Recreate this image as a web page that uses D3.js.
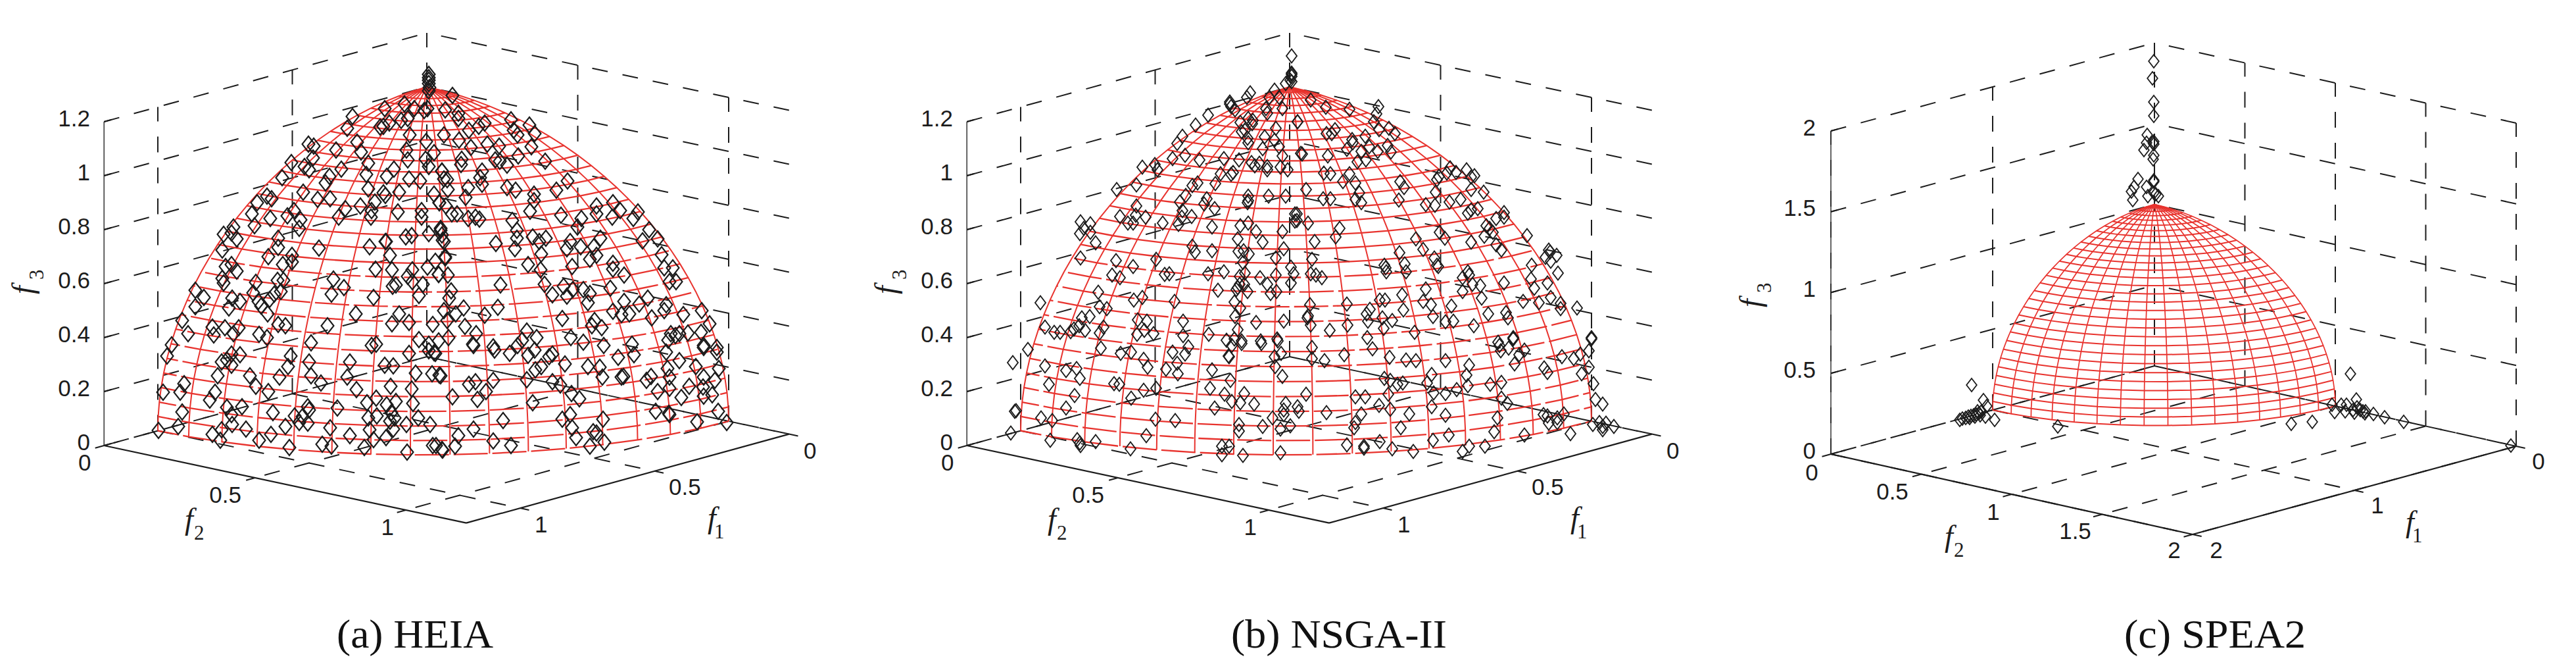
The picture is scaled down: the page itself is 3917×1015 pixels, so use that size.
<!DOCTYPE html>
<html>
<head>
<meta charset="utf-8">
<script src="https://cdn.jsdelivr.net/npm/d3@7"></script>
<style>
html,body{margin:0;padding:0;background:#fff;overflow:hidden}
svg{display:block}
</style>
</head>
<body>
<svg id="chart" width="3917" height="1015"></svg>
<script>
// Tick values of each axis
const heiaF1Ticks = [0, 0.5, 1];
const heiaF2Ticks = [0, 0.5, 1];
const heiaF3Ticks = [0, 0.2, 0.4, 0.6, 0.8, 1, 1.2];
const nsgaF1Ticks = [0, 0.5, 1];
const nsgaF2Ticks = [0, 0.5, 1];
const nsgaF3Ticks = [0, 0.2, 0.4, 0.6, 0.8, 1, 1.2];
const speaF1Ticks = [0, 1, 2];
const speaF2Ticks = [0, 0.5, 1, 1.5, 2];
const speaF3Ticks = [0, 0.5, 1, 1.5, 2];
const captions = ["(a) HEIA", "(b) NSGA-II", "(c) SPEA2"];

// True Pareto front mesh: octant of the unit sphere, in degrees
const meshLatitudes = d3.range(0, 91, 3);
const meshLongitudes = d3.range(0, 90.01, 5.625);

// Obtained solutions as [across, up] in the view plane,
// measured from the foot of the f3 axis of the dome.
const heiaMarkers = [
[3,429],[3,424],[3,420],[3,415],[4,409],[3,404],
[-64,377],[-34,384],[-19,377],[-4,374],[1,377],[-29,362],[-39,359],[-57,355],[-71,349],[-66,350],[-113,365],[-121,347],[-26,337],[-1,327],
[-31,314],[-29,299],[11,310],[-2,300],[3,289],[23,282],[26,270],[-180,323],[-172,320],[-138,314],[-106,326],[-100,311],[-173,302],[-206,295],[-186,289],[-179,284],
[-89,294],[-130,285],[-92,277],[-50,285],[-61,274],[-220,272],[-148,274],[-154,264],[-27,270],[-10,267],[-188,250],[-89,255],[-66,249],[-63,245],[-42,250],[11,247],
[-243,244],[-236,240],[-258,234],[-166,239],[-147,240],[-79,235],[-101,229],[-124,225],[19,234],[-8,222],[-202,222],[-44,220],[-266,217],[-212,214],[-238,210],[-134,212],
[-192,208],[-85,212],[-84,222],[-8,212],[-194,195],[-262,199],[-294,197],[-309,186],[-297,188],[-289,179],[-226,180],[-32,182],[-23,184],[3,187],[21,192],[-63,175],[-62,175],[-87,167],
[-226,166],[-311,162],[-164,165],[24,177],[-205,154],[-56,154],[-241,152],[-219,140],[-205,144],[-306,137],[-297,140],[-289,130],[-78,133],[-53,132],[1,136],[13,145],[28,152],[-22,132],[-29,122],[18,125],
[-142,118],[-311,119],[-309,112],[-260,113],[-227,116],[-218,116],[-22,114],[-6,110],[-126,105],[-52,107],[-47,109],[-352,101],[-339,90],[-145,95],[-81,90],[-12,93],[-222,99],[-232,95],[-264,97],
[-296,89],[-284,84],[-256,84],[-239,87],[-352,76],[-301,74],[-252,77],[-242,65],[-108,65],[-42,65],[-372,55],[-326,45],[-307,44],[-286,44],[-226,49],[-215,47],[-151,47],[-53,50],[-27,52],[9,49],
[-363,35],[-324,33],[-294,35],[-255,34],[-243,29],[-176,21],[-12,26],[-77,19],[-84,17],[18,24],[-388,18],[3,19],
[39,397],[28,375],[48,370],[48,362],[26,337],[64,344],[79,350],[88,355],[128,360],[156,352],[132,344],[138,337],[164,339],[49,329],[67,318],[92,323],[110,320],[159,319],
[139,305],[180,297],[53,300],[52,292],[104,299],[111,297],[122,291],[84,282],[81,272],[84,262],[23,282],[31,269],[32,254],[122,257],[135,253],[197,253],[214,267],[163,247],[163,237],[63,257],[59,242],[157,221],
[19,234],[29,229],[38,217],[46,217],[63,210],[74,212],[80,209],[204,215],[258,229],[258,217],[283,234],[294,222],[282,212],[321,220],[314,210],[235,210],[229,197],[130,207],[137,192],[137,180],[134,164],[161,182],[181,180],[171,175],[105,172],[21,195],[23,185],[26,175],
[218,175],[213,164],[234,167],[254,167],[258,154],[248,148],[338,193],[328,176],[351,179],[264,180],[357,155],[174,156],[28,150],[221,137],[154,140],[173,132],[18,125],[32,124],
[283,142],[283,133],[300,124],[361,135],[374,135],[369,114],[379,114],[179,110],[208,107],[222,102],[238,102],[248,96],[279,104],[112,109],[37,100],[34,89],[191,94],[213,92],[245,82],[300,84],[323,80],[336,89],[364,79],[361,70],[418,70],[430,50],
[108,75],[26,70],[44,65],[56,74],[88,63],[31,55],[283,69],[296,64],[308,65],[342,59],[390,64],[206,58],[255,55],[251,47],[266,44],[58,46],[75,35],[152,39],[167,29],[145,25],[138,17],[219,29],[238,22],[33,29],
[417,37],[397,36],[371,35],[378,32],[367,25],[384,35],[70,19],[101,15],[269,17],[312,19],[421,17],[441,14],
[-395,1],[-297,4],[-284,3],[-312,-8],[-304,-5],[-297,-13],[-207,1],[-179,-8],[-211,-15],[-117,-8],[-27,5],[11,6],[3,9],[-64,-13],[-51,-14],[-318,-29],[-269,-29],[-224,-31],[-176,-29],[-121,-31],[-17,-25],[8,-26],[21,-29],
[-369,-41],[-260,-45],[-161,-40],[-55,-45],[-107,-50],[-23,-49],[-401,-54],[-375,-54],[-322,-54],[-330,-66],[-241,-53],[-91,-70],[-77,-63],[-47,-68],[-21,-71],[-61,-73],[-304,-77],[-281,-76],[-181,-76],[-179,-81],[-136,-78],
[-372,-84],[-234,-85],[-297,-88],[-201,-90],[-189,-91],[-76,-90],[-89,-93],[-54,-85],[-49,-93],[-56,-98],[-13,-93],[-181,-101],[-194,-100],[-31,-103],[5,-103],[-408,-112],[-378,-106],[-296,-103],[-275,-110],[-215,-106],[-147,-108],[-87,-111],[-51,-110],[-312,-111],
[-117,-120],[-237,-118],[-326,-118],[-314,-127],[-255,-127],[-62,-123],[-81,-126],[9,-135],[-159,-133],[-145,-136],[-95,-138],[-209,-138],[-30,-145],[24,-142],
[71,17],[103,10],[126,5],[154,2],[164,10],[186,0],[191,4],[210,-11],[13,5],[165,-20],[174,-15],[19,-28],[64,-42],[74,-38],[101,-36],[152,-35],[191,-38],[203,-43],[245,-15],[263,-16],[267,-31],[291,-1],[315,3],[296,-31],[299,-30],[334,-36],[341,-30],
[364,7],[384,-6],[366,-18],[369,-31],[351,-53],[369,-48],[399,-45],[387,-62],[421,-31],[441,7],[421,14],[409,-15],[444,-18],[438,-36],[420,-46],[421,-60],[434,-58],[39,-61],[90,-53],[77,-65],[220,-56],[232,-64],[161,-70],
[116,-97],[206,-95],[218,-88],[221,-108],[268,-95],[348,-83],[368,-86],[369,-88],[443,-83],[411,-99],[456,-100],[71,-110],[48,-120],[253,-114],[258,-116],[227,-123],[101,-128],[128,-135],[43,-136],[23,-141],[248,-136],[270,-130],[14,-135]
];

const nsgaMarkers = [
[3,457],[3,431],[3,429],[3,426],[3,418],
[-6,415],[1,420],[-23,405],[-16,394],[-31,394],[-36,377],[-34,370],[-11,377],[-60,401],[-65,394],[-91,387],[-91,384],[-89,380],[-83,375],[-124,367],[-143,352],[-75,356],[-63,362],[-56,359],[-57,354],[12,357],[-21,347],[-68,344],[-73,342],[-64,332],[-63,325],[-38,334],[-23,329],[-41,316],[-16,319],[-11,305],[17,309],
[-163,335],[-171,324],[-159,306],[-178,301],[-137,299],[-100,301],[-77,299],[-58,295],[-53,290],[-46,294],[-34,289],[-34,284],[-14,288],[-3,284],[-224,288],[-205,292],[-201,284],[-105,278],[-89,277],[-86,280],
[-263,254],[-233,261],[-148,260],[-140,264],[-113,263],[-158,245],[-126,240],[-63,244],[-63,237],[-64,234],[-32,244],[-6,244],[-167,235],[-130,232],[-233,229],[-114,225],[-163,222],
[-258,213],[-234,215],[-219,212],[-246,203],[-238,203],[-149,213],[-164,212],[-318,205],[-303,202],[-313,195],[-319,187],[-303,189],[-193,203],[-169,201],[-118,197],[-75,199],[-63,203],[-51,190],[-11,190],[8,217],[8,206],
[-295,173],[-79,179],[-41,174],[-148,168],[-144,159],[-118,161],[-70,161],[-78,160],[-62,156],[-9,164],[-21,150],[-318,150],[-264,146],[-203,148],[-238,137],[-71,143],[2,136],[6,126],[-100,129],[-68,127],[-124,126],[-190,125],[-183,126],[-270,124],[-258,120],[-76,122],[-45,120],[-21,124],[2,112],
[-34,110],[-69,110],[-76,110],[-79,105],[-81,102],[-109,101],[-64,99],[-29,96],[-20,99],[-291,98],[-224,90],[-237,86],[-175,84],[-379,82],[-84,83],[-75,74],[-289,76],[-278,73],[-304,61],[-316,59],[-83,61],[-231,56],[-217,54],[-162,54],[-51,52],[-9,54],
[-372,45],[-320,47],[-328,42],[-283,45],[-221,40],[-79,41],[-358,37],[-349,37],[-333,38],[-311,40],[-289,36],[-232,34],[-207,35],[-162,32],[-123,34],[-19,27],[-44,24],[-73,24],[-96,25],[-84,27],
[32,390],[55,379],[91,376],[135,380],[132,369],[128,357],[12,357],[136,345],[151,347],[160,339],[69,345],[56,339],[64,339],[95,330],[96,325],[115,335],[121,319],[87,315],[109,312],[134,312],[149,321],[154,311],
[19,308],[58,305],[103,296],[116,299],[52,279],[62,278],[91,278],[81,266],[100,264],[168,266],[174,257],[25,254],[106,249],[51,240],[62,240],[100,239],[109,234],[166,238],[222,250],[207,231],[221,230],[243,235],[260,239],
[224,269],[227,274],[239,279],[244,287],[253,280],[269,284],[281,275],[276,273],[276,254],[295,250],[286,225],[276,223],[271,218],[314,210],[326,219],[326,212],[299,199],[304,195],[309,189],[296,183],[28,203],[11,217],[11,207],[76,195],[70,182],[38,175],
[192,179],[228,189],[236,180],[276,174],[361,184],[314,170],[322,162],[167,158],[203,163],[34,148],[394,162],[396,159],[406,154],[389,151],[397,145],[220,150],[224,139],[226,137],[144,139],[146,135],[147,129],[175,141],[177,129],[32,126],[40,124],[49,120],
[368,139],[408,127],[263,120],[271,129],[273,124],[278,110],[290,108],[326,112],[367,118],[372,104],[392,112],[207,103],[263,99],[292,89],[171,94],[397,90],[203,84],[215,79],[137,86],[145,86],[31,79],[87,80],[246,77],[355,84],[379,82],[412,81],[412,73],[437,74],
[122,72],[117,65],[173,71],[28,62],[27,59],[302,65],[329,67],[332,59],[218,61],[141,59],[156,55],[119,54],[249,54],[237,53],[32,48],[88,48],[61,40],[143,43],[280,47],[190,37],[118,29],[340,29],[459,29],[317,22],
[-398,11],[-421,-9],[-287,13],[-257,5],[-241,7],[-154,15],[-159,4],[-178,7],[-88,17],[-73,20],[-43,20],[-18,24],[-13,5],[-23,0],[-93,1],[-92,0],[-372,-14],[-340,-21],[-324,-18],[-319,-33],[-222,-4],[-216,-16],[-188,-19],[-171,-10],[-170,-26],[-118,-20],[-22,-15],[-90,-36],[-11,-30],
[-366,-42],[-267,-41],[-259,-42],[-222,-51],[-203,-48],[-121,-48],[-327,-59],[-241,-63],[-99,-57],[-69,-56],[-88,-68],[-75,-70],[-54,-72],[-340,-78],[-114,-78],[-416,-82],[-418,-83],[-378,-93],[-361,-97],[-204,-95],[-174,-97],[-77,-103],[-77,-113],[-41,-106],[-26,-93],
[-6,-71],[-9,-81],[-9,-88],[12,-76],[14,-83],[1,-105],[-14,-110],[-424,-116],[-218,-120],[-364,-127],[-323,-126],[-319,-131],[-318,-135],[-295,-129],[-103,-136],[-92,-136],[-242,-140],[-103,-149],[-71,-150],[-14,-146],
[34,14],[34,-3],[53,-6],[83,3],[126,12],[152,-1],[177,-5],[192,-6],[237,-6],[216,-27],[273,-13],[269,-28],[271,-44],[319,17],[321,9],[333,13],[357,10],[349,3],[342,-11],[414,0],[432,-3],[442,4],[455,9],[459,27],[340,27],[387,-17],[392,-24],[455,-16],[444,-26],[462,-41],
[144,-33],[153,-36],[164,-42],[172,-40],[209,-40],[219,-55],[237,-56],[254,-50],[305,-42],[322,-39],[322,-63],[331,-71],[25,-57],[100,-61],[115,-61],[150,-57],[465,-65],[476,-72],[136,-74],[153,-80],[216,-76],[56,-85],[109,-87],[182,-87],[237,-89],[316,-93],
[386,-88],[392,-90],[407,-93],[417,-87],[394,-101],[407,-100],[100,-100],[98,-108],[169,-108],[311,-114],[242,-119],[357,-119],[427,-117],[461,-103],[471,-100],[476,-106],[476,-111],[493,-106],[481,-101],[218,-127],[87,-134],[113,-136],[113,-139],[137,-129],[156,-140],[188,-144],[263,-144],[273,-136],[297,-136]
];

const speaMarkers = [
[-1,463],[-3,437],[-1,401],[-1,380],[-11,351],[-12,339],[-16,328],[-2,339],[-1,341],[-1,337],[-1,320],[-2,314],[-25,284],[-31,272],[-35,265],[-33,252],[-12,272],[-1,282],[-1,280],[-10,258],[-1,263],[6,258],[2,261],
[-278,-29],[-260,-52],[-255,-61],[-243,-82],[-147,-92],[-257,-77],[-296,-82],[-292,-80],[-287,-79],[-283,-77],[-279,-76],[-275,-75],[-271,-74],[-267,-72],[-263,-69],[-281,-79],[-273,-77],[-265,-75],[-269,-69],
[298,-12],[307,-51],[270,-59],[274,-70],[284,-59],[292,-59],[290,-69],[302,-67],[308,-63],[313,-67],[317,-69],[321,-69],[304,-71],[240,-85],[208,-88],
[350,-78],[379,-85],[542,-121],[320,-72],[333,-73]
];

const panelLayouts = [
  { markers: heiaMarkers, f1Ticks: heiaF1Ticks, f2Ticks: heiaF2Ticks, f3Ticks: heiaF3Ticks, caption: captions[0],
    max: [1.2, 1.2, 1.2], back: [649, 542], f1Unit: [-409, 112.5], f2Unit: [459, 98], f3Unit: 410,
    mw: 9.5, mh: 12, msw: 2.1, meshW: 2.3, broken: true, capX: 512, capW: 238,
    zLabelX: 137, f2Off: [[-29.5, 25], [-45, 25], [-28, 25]], f1Off: [[32, 25], [46, 24], [32, 24]],
    f3Pos: [50, 447], f3Sub: [66, 425], f2Pos: [281, 804], f2Sub: [295, 820], f1Pos: [1076, 802], f1Sub: [1086, 818] },
  { markers: nsgaMarkers, f1Ticks: nsgaF1Ticks, f2Ticks: nsgaF2Ticks, f3Ticks: nsgaF3Ticks, caption: captions[1],
    max: [1.2, 1.2, 1.2], back: [1961, 542], f1Unit: [-409, 112.5], f2Unit: [459, 98], f3Unit: 410,
    mw: 8, mh: 10.5, msw: 1.9, meshW: 2.3, broken: true, capX: 1872, capW: 328,
    zLabelX: 1449, f2Off: [[-29.5, 25], [-45, 25], [-28, 25]], f1Off: [[32, 25], [46, 24], [32, 24]],
    f3Pos: [1362, 447], f3Sub: [1378, 425], f2Pos: [1593, 804], f2Sub: [1607, 820], f1Pos: [2388, 802], f1Sub: [2398, 818] },
  { markers: speaMarkers, f1Ticks: speaF1Ticks, f2Ticks: speaF2Ticks, f3Ticks: speaF3Ticks, caption: captions[2],
    max: [2, 2, 2], back: [3276, 556], f1Unit: [-246, 67], f2Unit: [275, 61], f3Unit: 245.5,
    mw: 7.8, mh: 10, msw: 1.8, meshW: 2, broken: false, capX: 3230, capW: 276,
    zLabelX: 2761, f2Off: [[-29, 27], [-44, 25.5], [-28, 26], [-41, 25], [-28, 23]], f1Off: [[34, 22], [35, 22], [36, 23]],
    f3Pos: [2677, 467], f3Sub: [2693, 445], f2Pos: [2957, 830], f2Sub: [2971, 846], f1Pos: [3658, 808], f1Sub: [3668, 824] }
];

const ink = "#1c1c1c";
const red = "#e8332e";
const svg = d3.select("#chart");
svg.append("rect").attr("width", 3917).attr("height", 1015).attr("fill", "#fff");

panelLayouts.forEach(p => {
  const g = svg.append("g");
  // One scale per axis, each giving the offset it adds on screen
  const f1X = d3.scaleLinear().domain([0, 1]).range([0, p.f1Unit[0]]);
  const f1Y = d3.scaleLinear().domain([0, 1]).range([0, p.f1Unit[1]]);
  const f2X = d3.scaleLinear().domain([0, 1]).range([0, p.f2Unit[0]]);
  const f2Y = d3.scaleLinear().domain([0, 1]).range([0, p.f2Unit[1]]);
  const f3Y = d3.scaleLinear().domain([0, 1]).range([0, -p.f3Unit]);
  const project = (a, b, c) => [p.back[0] + f1X(a) + f2X(b), p.back[1] + f1Y(a) + f2Y(b) + f3Y(c)];
  const [m1, m2, m3] = p.max;

  const line = d3.line();
  const seg = (pts, opts) => {
    const el = g.append("path").attr("d", line(pts)).attr("fill", "none");
    Object.entries(opts).forEach(([k, v]) => el.attr(k, v));
    return el;
  };
  const dashed = { stroke: ink, "stroke-width": 2, "stroke-dasharray": "24 23" };

  // Gridlines on the floor and the two back walls
  p.f1Ticks.forEach(t => {
    seg([project(t, 0, 0), project(t, m2, 0)], dashed);
    seg([project(t, 0, 0), project(t, 0, m3)], dashed);
  });
  p.f2Ticks.forEach(t => {
    seg([project(0, t, 0), project(m1, t, 0)], dashed);
    if (t > 0) seg([project(0, t, 0), project(0, t, m3)], dashed);
  });
  p.f3Ticks.forEach(t => {
    seg([project(m1, 0, t), project(0, 0, t)], dashed);
    seg([project(0, m2, t), project(0, 0, t)], dashed);
  });

  // Solid box edges
  seg([project(m1, 0, 0), project(m1, m2, 0)], { stroke: ink, "stroke-width": 2.2 });
  seg([project(m1, m2, 0), project(0, m2, 0)], { stroke: ink, "stroke-width": 2.2 });
  seg([project(m1, 0, 0), project(m1, 0, m3)], { stroke: "#333", "stroke-width": 1.5 });

  // Tick marks
  const tick = 14;
  const unit = v => { const l = Math.hypot(v[0], v[1]); return [v[0] / l, v[1] / l]; };
  const d1 = unit(p.f1Unit), d2 = unit(p.f2Unit);
  p.f2Ticks.forEach(t => {
    const q = project(m1, t, 0);
    seg([q, [q[0] + d1[0] * tick, q[1] + d1[1] * tick]], { stroke: ink, "stroke-width": 2 });
  });
  p.f1Ticks.forEach(t => {
    const q = project(t, m2, 0);
    seg([q, [q[0] + d2[0] * tick, q[1] + d2[1] * tick]], { stroke: ink, "stroke-width": 2 });
  });
  p.f3Ticks.forEach(t => {
    const q = project(m1, 0, t);
    seg([q, [q[0] - d1[0] * 12, q[1] - d1[1] * 12]], { stroke: ink, "stroke-width": 2 });
  });

  // Mesh of the true front
  const rad = Math.PI / 180;
  const onSphere = (lat, lon) => project(Math.cos(lat * rad) * Math.cos(lon * rad), Math.cos(lat * rad) * Math.sin(lon * rad), Math.sin(lat * rad));
  meshLongitudes.forEach(lon => {
    seg(meshLatitudes.map(lat => onSphere(lat, lon)), { stroke: red, "stroke-width": p.meshW - 0.3 });
  });
  meshLatitudes.forEach(lat => {
    const el = seg(meshLongitudes.map(lon => onSphere(lat, lon)), { stroke: red, "stroke-width": p.meshW });
    if (p.broken && lat <= 36) el.attr("stroke-dasharray", "52 7").attr("stroke-dashoffset", 20 + lat);
  });

  // Markers, from the values
  const across = d3.scaleLinear().domain([-600, 600]).range([p.back[0] - 600, p.back[0] + 600]);
  const up = d3.scaleLinear().domain([-600, 600]).range([p.back[1] + 600, p.back[1] - 600]);
  g.append("g").selectAll("path").data(p.markers).join("path")
    .attr("d", d => {
      const x = across(d[0]), y = up(d[1]);
      const c = d3.path();
      c.moveTo(x, y - p.mh); c.lineTo(x + p.mw, y); c.lineTo(x, y + p.mh); c.lineTo(x - p.mw, y); c.closePath();
      return c.toString();
    })
    .attr("fill", "none").attr("stroke", ink).attr("stroke-width", p.msw);

  // Tick labels
  const tickFont = { "font-family": "'Liberation Sans',Arial,sans-serif", "font-size": 35, fill: "#1c1c1c" };
  const label = (x, y, s, anchor) => {
    const el = g.append("text").attr("x", x).attr("y", y).attr("text-anchor", anchor).text(s);
    Object.entries(tickFont).forEach(([k, v]) => el.attr(k, v));
  };
  p.f3Ticks.forEach(t => {
    const q = project(m1, 0, t);
    label(p.zLabelX, q[1] - 6 + 12.5, String(t), "end");
  });
  p.f2Ticks.forEach((t, i) => {
    const q = project(m1, t, 0);
    label(q[0] + p.f2Off[i][0], q[1] + p.f2Off[i][1] + 12.5, String(t), "middle");
  });
  p.f1Ticks.forEach((t, i) => {
    const q = project(t, m2, 0);
    label(q[0] + p.f1Off[i][0], q[1] + p.f1Off[i][1] + 12.5, String(t), "middle");
  });

  // Axis names
  const name = (pos, sub, digit, rotate) => {
    const f = g.append("text").text("f").attr("font-family", "'Liberation Serif','Times New Roman',serif")
      .attr("font-style", "italic").attr("font-size", 46).attr("fill", "#1c1c1c");
    const s = g.append("text").text(digit).attr("font-family", "'Liberation Serif','Times New Roman',serif")
      .attr("font-size", 31).attr("fill", "#1c1c1c");
    if (rotate) {
      f.attr("transform", `translate(${pos[0]},${pos[1]}) rotate(-90)`);
      s.attr("transform", `translate(${sub[0]},${sub[1]}) rotate(-90)`);
    } else {
      f.attr("x", pos[0]).attr("y", pos[1]);
      s.attr("x", sub[0]).attr("y", sub[1]);
    }
  };
  name(p.f3Pos, p.f3Sub, "3", true);
  name(p.f2Pos, p.f2Sub, "2", false);
  name(p.f1Pos, p.f1Sub, "1", false);

  // Caption
  g.append("text").text(p.caption).attr("x", p.capX).attr("y", 984)
    .attr("font-family", "'Liberation Serif','Times New Roman',serif").attr("font-size", 62).attr("fill", "#111")
    .attr("textLength", p.capW).attr("lengthAdjust", "spacingAndGlyphs");
});
</script>
</body>
</html>
